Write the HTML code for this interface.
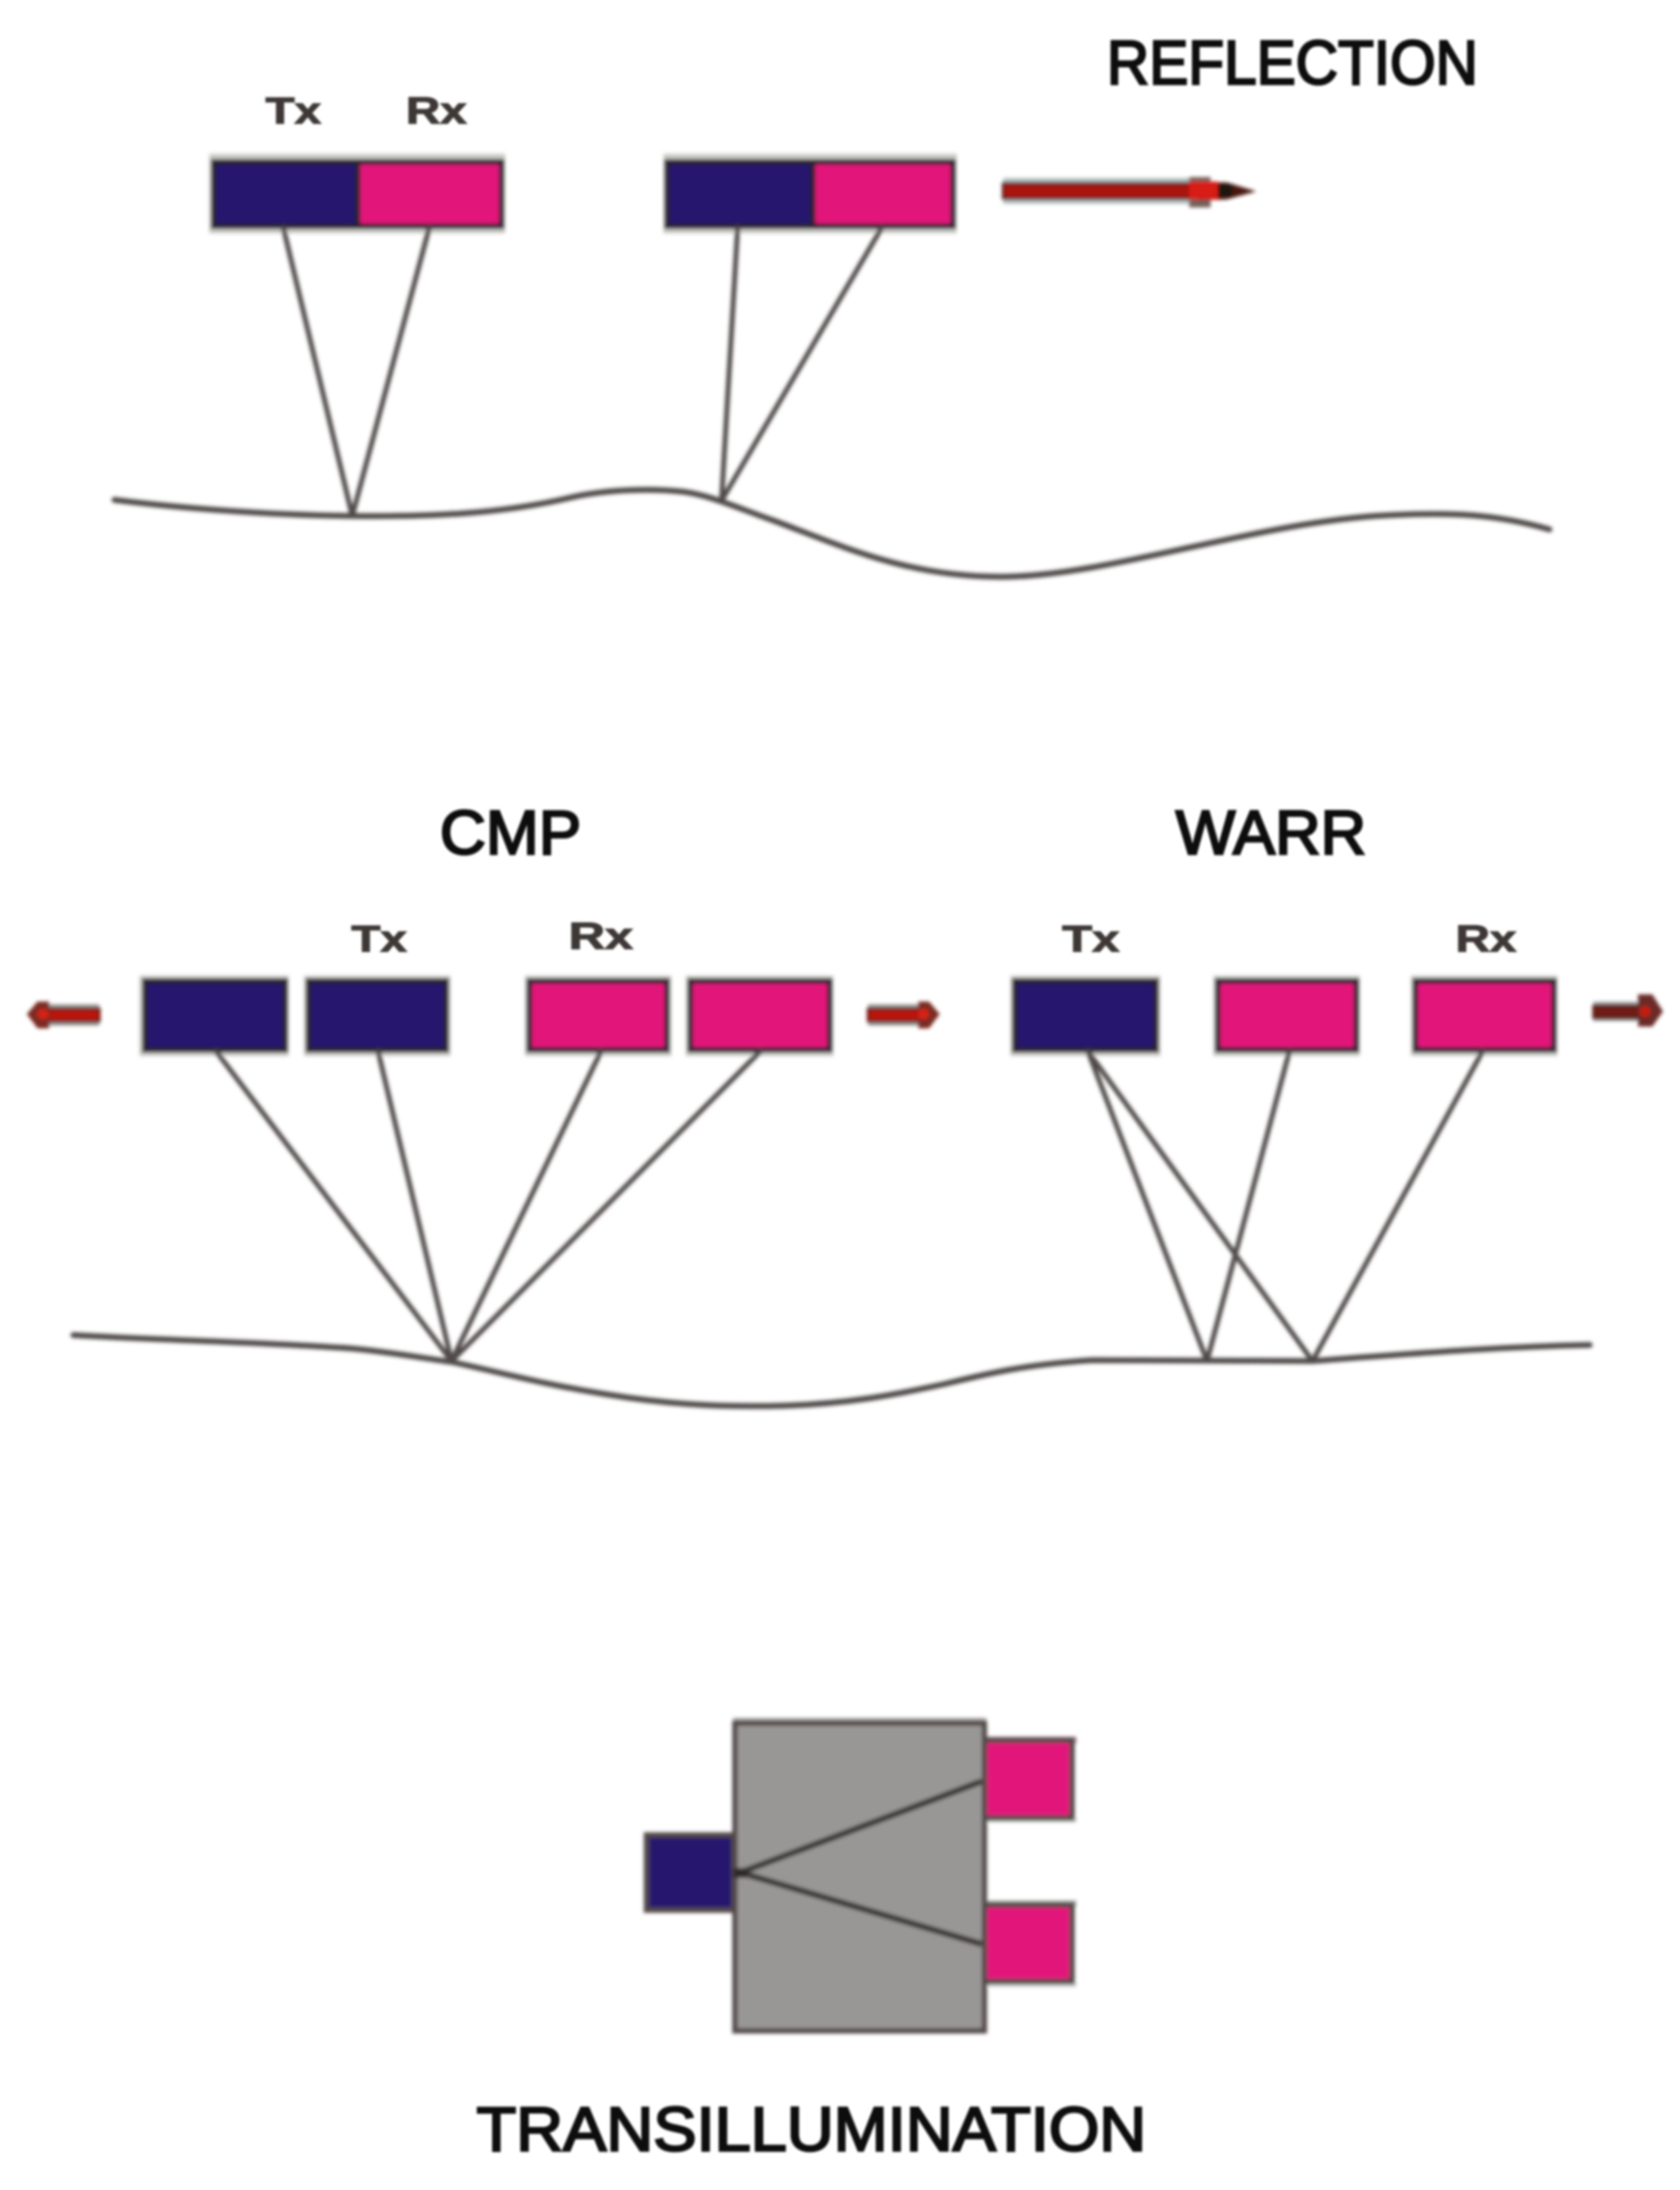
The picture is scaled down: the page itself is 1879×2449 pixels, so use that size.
<!DOCTYPE html>
<html>
<head>
<meta charset="utf-8">
<style>
html,body{margin:0;padding:0;background:#fff;}
svg{display:block;}
text{font-family:"Liberation Sans",sans-serif;}
</style>
</head>
<body>
<svg width="1879" height="2449" viewBox="0 0 1879 2449" xmlns="http://www.w3.org/2000/svg">
<defs>
<filter id="b" x="-5%" y="-5%" width="110%" height="110%"><feGaussianBlur stdDeviation="2"/></filter>
<filter id="t" x="-5%" y="-20%" width="110%" height="140%"><feGaussianBlur stdDeviation="1.3"/></filter>
</defs>
<rect width="1879" height="2449" fill="#fff"/>

<g filter="url(#b)">
<!-- Box halos -->
<g fill="#c9c9c5">
<rect x="234" y="172" width="331" height="89"/>
<rect x="742" y="172" width="328" height="89"/>
<rect x="156" y="1091" width="167" height="90"/>
<rect x="340" y="1091" width="164" height="90"/>
<rect x="587" y="1091" width="164" height="90"/>
<rect x="767" y="1091" width="165" height="90"/>
<rect x="1130" y="1091" width="168" height="90"/>
<rect x="1357" y="1091" width="164" height="90"/>
<rect x="1578" y="1091" width="164" height="90"/>
</g>
<!-- Reflection boxes -->
<g stroke="#2c2030" stroke-width="6">
<rect x="239" y="181" width="161" height="72" fill="#27136e"/>
<rect x="400" y="181" width="161" height="72" fill="#e2127a"/>
<rect x="746" y="181" width="163" height="72" fill="#27136e"/>
<rect x="909" y="181" width="157" height="72" fill="#e2127a"/>
</g>

<!-- Reflection ground and rays -->
<g fill="none" stroke="#4f4a48" stroke-linecap="round">
<path d="M128 559 C200 568 300 576 394 577 C480 578 560 575 640 556 C680 547 730 546 765 550 C795 554 825 568 865 582 C945 612 1015 645 1120 645 C1240 645 1410 582 1556 576 C1620 573 1670 574 1733 592" stroke-width="6.5"/>
<path d="M317 255 L394 577 M480 255 L394 577 M825 255 L807 560 M986 255 L807 560" stroke-width="5.5"/>
</g>

<!-- Reflection arrow -->
<rect x="1122" y="199" width="212" height="29" fill="#b4bfbe"/>
<rect x="1122" y="205" width="212" height="17" fill="#a81208" stroke="#5a2222" stroke-width="3"/>
<rect x="1330" y="198" width="24" height="34" fill="#77605c"/>
<path d="M1340 204 L1372 204 L1405 214 L1372 223 L1340 224 Z" fill="#4a1510"/>
<rect x="1348" y="206" width="30" height="14" fill="#1f1410"/>
<rect x="1330" y="203" width="32" height="20" fill="#d81e14"/>

<!-- CMP / WARR boxes -->
<g stroke="#2c2030" stroke-width="6">
<rect x="162" y="1097" width="157" height="77" fill="#27136e"/>
<rect x="345" y="1097" width="154" height="77" fill="#27136e"/>
<rect x="592" y="1097" width="154" height="77" fill="#e2127a"/>
<rect x="772" y="1097" width="156" height="77" fill="#e2127a"/>
<rect x="1135" y="1097" width="158" height="77" fill="#27136e"/>
<rect x="1362" y="1097" width="155" height="77" fill="#e2127a"/>
<rect x="1583" y="1097" width="155" height="77" fill="#e2127a"/>
</g>

<!-- CMP / WARR ground and rays -->
<g fill="none" stroke="#4f4a48" stroke-linecap="round">
<path d="M82 1493 C190 1499 300 1501 394 1508 C437 1512 475 1519 505 1523 C557 1534 607 1548 677 1559 C737 1569 797 1574 875 1572 C945 1570 995 1561 1055 1548 C1105 1536 1145 1526 1222 1521 L1468 1522 C1575 1514 1675 1506 1778 1504" stroke-width="6.5"/>
<path d="M242 1176 L505 1522 M423 1176 L505 1522 M672 1176 L505 1522 M850 1176 L505 1522" stroke-width="5.5"/>
<path d="M1217 1176 L1350 1522 M1217 1176 L1468 1522 M1442 1176 L1350 1522 M1658 1176 L1468 1522" stroke-width="5.5"/>
</g>

<!-- small arrows -->
<g>
<rect x="46" y="1123" width="65" height="24" fill="#9a9a98"/>
<rect x="46" y="1128" width="65" height="14" fill="#b81208" stroke="#6a1a12" stroke-width="3"/>
<path d="M30 1134 L42 1120 L55 1120 L55 1150 L42 1150 Z" fill="#7a2a24"/>
<circle cx="48" cy="1134" r="6" fill="#d82018"/>
<rect x="971" y="1123" width="60" height="24" fill="#9a9a98"/>
<rect x="971" y="1128" width="60" height="14" fill="#b81208" stroke="#6a1a12" stroke-width="3"/>
<path d="M1051 1134 L1039 1120 L1027 1120 L1027 1150 L1039 1150 Z" fill="#7a2a24"/>
<circle cx="1033" cy="1134" r="6" fill="#d82018"/>
<rect x="1782" y="1120" width="56" height="22" fill="#a8a8a8"/>
<rect x="1782" y="1124" width="58" height="15" fill="#6e1a12" stroke="#4a1a14" stroke-width="2"/>
<path d="M1860 1131 L1848 1112 L1832 1112 L1832 1148 L1848 1148 Z" fill="#6a2a28"/>
<circle cx="1840" cy="1131" r="6" fill="#c81a10"/>
</g>

<!-- Transillumination -->
<rect x="820" y="1921" width="283" height="8" fill="#a8a4a2"/>
<rect x="1101" y="1942" width="103" height="8" fill="#a88a98"/>
<rect x="1101" y="2125" width="103" height="8" fill="#b0b8b0"/>
<rect x="1101" y="2032" width="103" height="6" fill="#ccd2cc"/>
<rect x="1101" y="2216" width="103" height="6" fill="#ccd2cc"/>
<g stroke="#524a48" stroke-width="6">
<rect x="1101" y="1946" width="98" height="87" fill="#e2127a"/>
<rect x="1101" y="2130" width="98" height="86" fill="#e2127a"/>
<rect x="723" y="2052" width="98" height="84" fill="#27136e"/>
<rect x="822" y="1927" width="279" height="344" fill="#999796"/>
</g>
<path d="M828 2094 L1098 1992 M828 2094 L1098 2174" stroke="#3e3a38" stroke-width="7" fill="none"/>
<rect x="820" y="2089" width="16" height="11" fill="#2e2b29"/>
</g>

<g filter="url(#t)" fill="#111" stroke="#111" stroke-width="2.6">
<text x="1238" y="94" font-size="70" textLength="415" lengthAdjust="spacingAndGlyphs">REFLECTION</text>
<text x="492" y="955" font-size="70" textLength="158" lengthAdjust="spacingAndGlyphs">CMP</text>
<text x="1315" y="955" font-size="70" textLength="213" lengthAdjust="spacingAndGlyphs">WARR</text>
<text x="533" y="2405" font-size="70" textLength="749" lengthAdjust="spacingAndGlyphs">TRANSILLUMINATION</text>
</g>

<g filter="url(#t)" fill="#3c3836" stroke="#3c3836" stroke-width="1.2" font-weight="bold">
<text x="297" y="138" font-size="42" textLength="62" lengthAdjust="spacingAndGlyphs">Tx</text>
<text x="454" y="138" font-size="42" textLength="68" lengthAdjust="spacingAndGlyphs">Rx</text>
<text x="393" y="1064" font-size="42" textLength="62" lengthAdjust="spacingAndGlyphs">Tx</text>
<text x="636" y="1061" font-size="42" textLength="72" lengthAdjust="spacingAndGlyphs">Rx</text>
<text x="1188" y="1064" font-size="42" textLength="64" lengthAdjust="spacingAndGlyphs">Tx</text>
<text x="1628" y="1064" font-size="42" textLength="68" lengthAdjust="spacingAndGlyphs">Rx</text>
</g>
</svg>
</body>
</html>
